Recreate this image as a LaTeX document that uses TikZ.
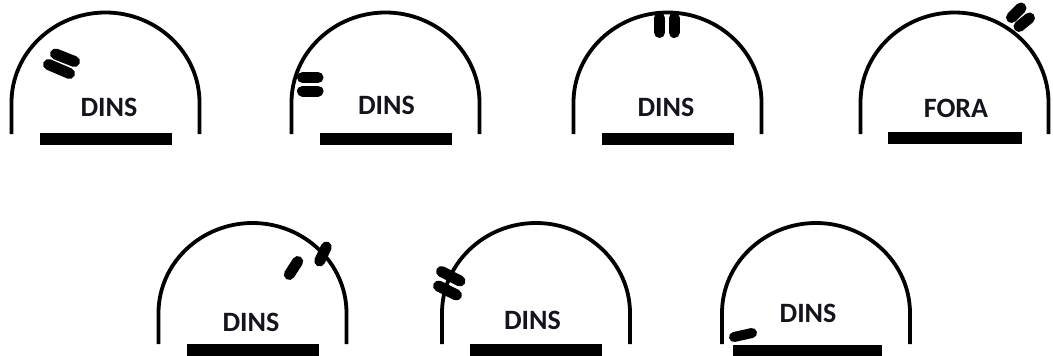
\documentclass[tikz,border=0pt]{standalone}
\usepackage{fontspec}
\setmainfont{Carlito}
\definecolor{txtcol}{RGB}{20,20,30}
\newcommand\mydome[3]{% centre x, top y, bottom y
  \draw[domeline] (#1-94,#3) -- (#1-94,#2+90)
    .. controls (#1-94,#2+40.5) and (#1-51.7,#2) .. (#1,#2)
    .. controls (#1+51.7,#2) and (#1+94,#2+40.5) .. (#1+94,#2+90)
    -- (#1+94,#3);}
\begin{document}
\begin{tikzpicture}[x=1pt,y=-1pt,
  domeline/.style={line width=3.8pt, line join=round},
  pill/.style={line width=11pt, line cap=round},
  basebar/.style={fill=black},
  lbl/.style={inner sep=0pt, text=txtcol, font=\fontsize{28}{30}\selectfont\bfseries}]
\useasboundingbox[fill=white] (0,0) rectangle (1053,356);
% ---------- row 1 ----------
\mydome{105.5}{12.5}{134}
\fill[basebar] (39.5,133) rectangle (171.5,145);
\node[lbl] (t1) at (109,107) {DINS};
\draw[pill] (55.5,54) -- (74.5,61.5);
\draw[pill] (48.5,64.5) -- (69.5,73.5);

\mydome{385.5}{12.5}{134}
\fill[basebar] (319.5,133) rectangle (451.5,145);
\node[lbl] (t2) at (386.5,105) {DINS};
\draw[pill] (302.5,77.5) -- (318,77.5);
\draw[pill] (302.5,91) -- (318,91);

\mydome{667.5}{12.5}{134}
\fill[basebar] (601.5,133) rectangle (733.5,145);
\node[lbl] (t3) at (666,107) {DINS};
\draw[pill] (659.5,18) -- (659.5,32.5);
\draw[pill] (674,18) -- (674,32.5);

\mydome{954.5}{12.5}{134}
\fill[basebar] (888,132) rectangle (1022,144);
\node[lbl] (t4) at (956,108) {FORA};
\draw[pill] (1011.5,17.5) -- (1021,8);
\draw[pill] (1019,26.5) -- (1029.5,18);
% ---------- row 2 ----------
\mydome{252.5}{223}{344}
\fill[basebar] (186.5,344) rectangle (318.5,356);
\node[lbl] (t5) at (251,322) {DINS};
\draw[pill] (289.3,274.5) -- (297.7,261.5);
\draw[pill] (319.7,261) -- (326.3,247);

\mydome{536}{223}{344}
\fill[basebar] (470,344) rectangle (602,356);
\node[lbl] (t6) at (532.5,320) {DINS};
\draw[pill] (441.5,271.5) -- (460,281);
\draw[pill] (438.5,286) -- (456.5,295);

\mydome{816}{223}{344}
\fill[basebar] (733,345) rectangle (882,356);
\node[lbl] (t7) at (808,313) {DINS};
\draw[pill, line width=10pt] (734,337) -- (752,333);
\end{tikzpicture}
\end{document}
